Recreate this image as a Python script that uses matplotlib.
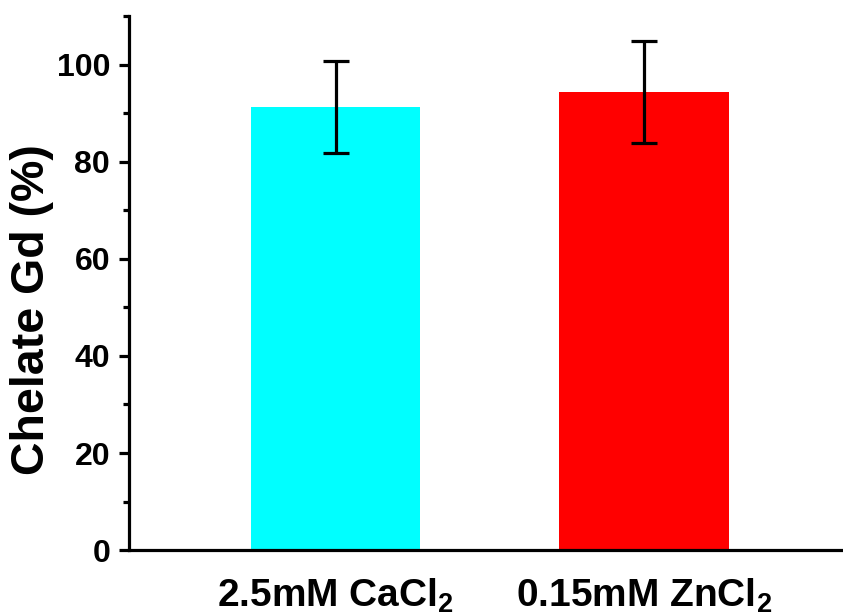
import matplotlib
matplotlib.use("Agg")
import matplotlib.pyplot as plt
from matplotlib.ticker import MultipleLocator

# Chelation results for each metal-salt condition
categories = [r"2.5mM CaCl$_{2}$", r"0.15mM ZnCl$_{2}$"]
chelate_pct = [91.3, 94.3]
chelate_err = [9.5, 10.5]
bar_colors = ["#00FFFF", "#FF0000"]

plt.rcParams["font.family"] = ["Liberation Sans", "DejaVu Sans"]
plt.rcParams["font.weight"] = "bold"
plt.rcParams["mathtext.fontset"] = "custom"
plt.rcParams["mathtext.rm"] = "Liberation Sans:bold"
plt.rcParams["mathtext.it"] = "Liberation Sans:bold"
plt.rcParams["mathtext.bf"] = "Liberation Sans:bold"
plt.rcParams["mathtext.default"] = "rm"

fig = plt.figure(figsize=(8.43, 6.14), dpi=100)
ax = fig.add_axes([0.153, 0.104, 0.847, 0.870])

x = list(range(len(categories)))
ax.bar(x, chelate_pct, width=0.55, color=bar_colors, edgecolor="none", zorder=2)
ax.errorbar(x, chelate_pct, yerr=chelate_err, fmt="none", ecolor="black",
            elinewidth=2.3, capsize=9.7, capthick=2.3, zorder=3)

ax.set_xlim(-0.67, 1.645)
ax.set_ylim(0, 110)
ax.set_xticks(x)
ax.set_xticklabels(categories, fontsize=28, fontweight="bold")
ax.yaxis.set_major_locator(MultipleLocator(20))
ax.yaxis.set_minor_locator(MultipleLocator(10))
ax.set_yticks([0, 20, 40, 60, 80, 100])
for lbl in ax.get_yticklabels():
    lbl.set_fontsize(23)
    lbl.set_fontweight("bold")

ax.set_ylabel("Chelate Gd (%)", fontsize=33.5, fontweight="bold")
ax.yaxis.set_label_coords(-0.105, 0.45)

for side in ("top", "right"):
    ax.spines[side].set_visible(False)
for side in ("left", "bottom"):
    ax.spines[side].set_linewidth(2.3)

ax.tick_params(axis="y", which="major", length=7.5, width=2.3, direction="out", pad=6)
ax.tick_params(axis="y", which="minor", length=4, width=2.3, direction="out")
ax.tick_params(axis="x", which="both", length=0, pad=19)

fig.savefig("out.png", dpi=100)
